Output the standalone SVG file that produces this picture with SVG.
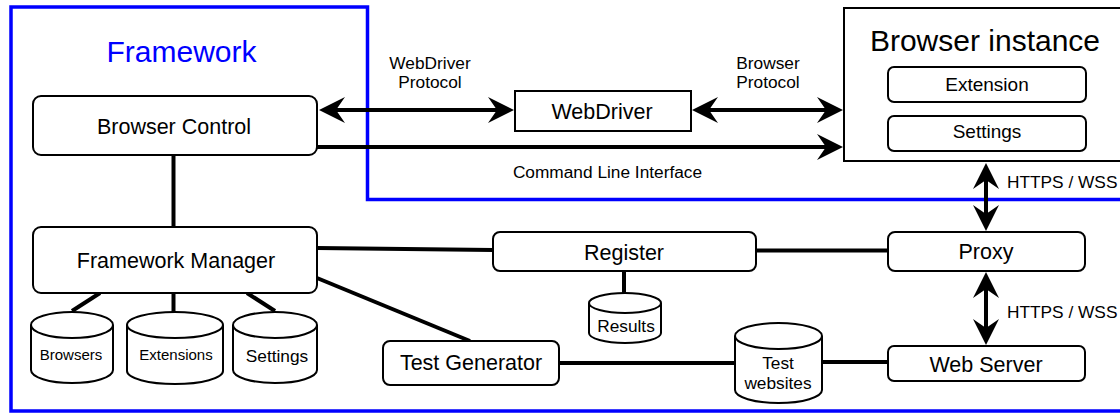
<svg xmlns="http://www.w3.org/2000/svg" width="1120" height="413" viewBox="0 0 1120 413">
<style>
  text { font-family: "Liberation Sans", Arial, Helvetica, sans-serif; fill: #000; text-anchor: middle; }
  .box { fill: #fff; stroke: #000; stroke-width: 2; }
  .cyl { fill: #fff; stroke: #000; stroke-width: 2; }
  .conn { fill: none; stroke: #000; stroke-width: 4; }
  .n { font-size: 21.5px; }
  .lbl { font-size: 17.3px; }
  .small { font-size: 15px; }
  .inner { font-size: 19px; }
  .title { font-size: 30px; }
</style>
<defs>
  <marker id="arr" viewBox="0 0 26 26" refX="9" refY="13" markerWidth="26" markerHeight="26" markerUnits="userSpaceOnUse" orient="auto-start-reverse">
    <path d="M0,0 L26,13 L0,26 L9,13 Z" fill="#000"/>
  </marker>
</defs>
<rect width="1120" height="413" fill="#fff"/>

<g id="framework">
  <path d="M11,7 H367.5 V199.5 H1125 V411 H11 Z" fill="none" stroke="#0000ff" stroke-width="3.5"/>
  <text x="181.5" y="62" class="title" style="fill:#0000ff">Framework</text>
</g>

<g id="browser-instance">
  <rect x="844" y="8" width="290" height="153" fill="#fff" stroke="#000" stroke-width="2"/>
  <text x="985" y="51" class="title">Browser instance</text>
</g>
<g id="extension">
  <rect x="888" y="67" width="198" height="35" rx="6" class="box"/>
  <text x="987" y="91" class="inner">Extension</text>
</g>
<g id="bi-settings">
  <rect x="888" y="116" width="198" height="35" rx="6" class="box"/>
  <text x="987" y="138" class="inner">Settings</text>
</g>

<g id="connectors">
  <line x1="336" y1="110" x2="497" y2="110" class="conn" marker-start="url(#arr)" marker-end="url(#arr)"/>
  <line x1="709" y1="110" x2="826" y2="110" class="conn" marker-start="url(#arr)" marker-end="url(#arr)"/>
  <line x1="317" y1="147" x2="826" y2="147" class="conn" marker-end="url(#arr)"/>
  <line x1="986" y1="180" x2="986" y2="214" class="conn" marker-start="url(#arr)" marker-end="url(#arr)"/>
  <line x1="986" y1="289" x2="986" y2="328" class="conn" marker-start="url(#arr)" marker-end="url(#arr)"/>
  <line x1="173.5" y1="155" x2="173.5" y2="227" class="conn"/>
  <line x1="317" y1="248" x2="493" y2="250" class="conn"/>
  <line x1="756" y1="250.5" x2="888" y2="250.5" class="conn"/>
  <line x1="317" y1="278" x2="470" y2="341" class="conn"/>
  <line x1="624" y1="271" x2="624" y2="293" class="conn"/>
  <line x1="559" y1="363" x2="735" y2="363" class="conn"/>
  <line x1="822" y1="362" x2="888" y2="362" class="conn"/>
  <line x1="100" y1="293" x2="72" y2="311" class="conn"/>
  <line x1="173.5" y1="293" x2="173.5" y2="312" class="conn"/>
  <line x1="247" y1="293" x2="275" y2="311" class="conn"/>
  <text x="430" y="69" class="lbl">WebDriver</text>
  <text x="430" y="88" class="lbl">Protocol</text>
  <text x="768" y="69" class="lbl">Browser</text>
  <text x="768" y="88" class="lbl">Protocol</text>
  <text x="607.5" y="177.5" class="lbl">Command Line Interface</text>
  <text x="1007" y="188" class="lbl" style="text-anchor:start">HTTPS / WSS</text>
  <text x="1007" y="318" class="lbl" style="text-anchor:start">HTTPS / WSS</text>
</g>

<g id="browser-control">
  <rect x="33" y="96" width="284" height="59" rx="8" class="box"/>
  <text x="174" y="134" class="n">Browser Control</text>
</g>
<g id="webdriver">
  <rect x="515" y="91" width="176" height="40" class="box"/>
  <text x="602" y="119" class="n">WebDriver</text>
</g>
<g id="framework-manager">
  <rect x="33" y="227" width="284" height="66" rx="8" class="box"/>
  <text x="176" y="268" class="n">Framework Manager</text>
</g>
<g id="register">
  <rect x="493" y="232" width="263" height="39" rx="7" class="box"/>
  <text x="624" y="260" class="n">Register</text>
</g>
<g id="proxy">
  <rect x="888" y="232" width="197" height="39" rx="7" class="box"/>
  <text x="986" y="259" class="n">Proxy</text>
</g>
<g id="test-generator">
  <rect x="383" y="341" width="176" height="44" rx="7" class="box"/>
  <text x="471" y="370" class="n">Test Generator</text>
</g>
<g id="web-server">
  <rect x="888" y="346" width="197" height="35" rx="6" class="box"/>
  <text x="986" y="372" class="n">Web Server</text>
</g>

<g id="browsers-db">
  <path d="M31,325 A41,13 0 0 1 113,325 V370 A41,13 0 0 1 31,370 Z M31,325 A41,13 0 0 0 113,325" class="cyl"/>
  <text x="71" y="360" class="small">Browsers</text>
</g>
<g id="extensions-db">
  <path d="M127,325 A48,13 0 0 1 223,325 V371 A48,13 0 0 1 127,371 Z M127,325 A48,13 0 0 0 223,325" class="cyl"/>
  <text x="176" y="360" class="small">Extensions</text>
</g>
<g id="settings-db">
  <path d="M233,325 A42,13 0 0 1 317,325 V370 A42,13 0 0 1 233,370 Z M233,325 A42,13 0 0 0 317,325" class="cyl"/>
  <text x="277" y="362" class="lbl">Settings</text>
</g>
<g id="results-db">
  <path d="M589,303 A36,10 0 0 1 661,303 V333 A36,10 0 0 1 589,333 Z M589,303 A36,10 0 0 0 661,303" class="cyl"/>
  <text x="626" y="331.5" class="lbl">Results</text>
</g>
<g id="test-websites-db">
  <path d="M735,336 A43.5,13 0 0 1 822,336 V390 A43.5,13 0 0 1 735,390 Z M735,336 A43.5,13 0 0 0 822,336" class="cyl"/>
  <text x="778" y="368.5" class="lbl">Test</text>
  <text x="778" y="388.5" class="lbl">websites</text>
</g>
</svg>
